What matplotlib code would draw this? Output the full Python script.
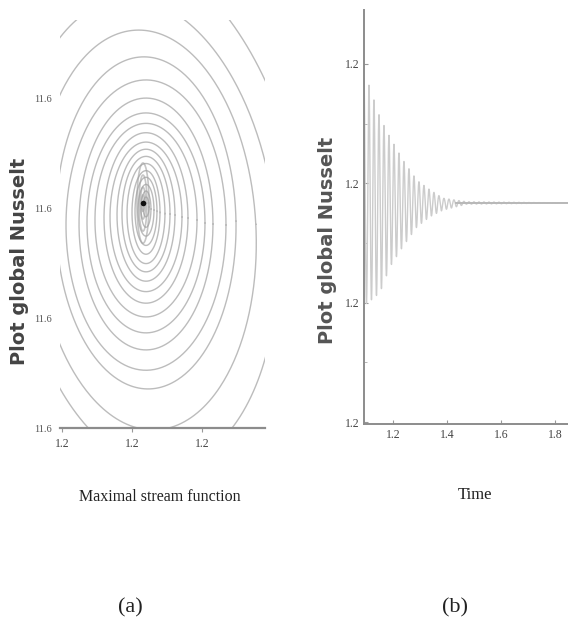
import numpy as np
import matplotlib
matplotlib.use('Agg')
import matplotlib.pyplot as plt
from matplotlib.ticker import FixedLocator

# ---- panel (a): phase portrait, nested orbits (stream function vs Nusselt)
orbit_cx = 1.2120
orbit_a = [0.02286, 0.01857, 0.01571, 0.01286, 0.01143, 0.00957, 0.00843, 0.00729,
           0.00600, 0.00514, 0.00414, 0.00343, 0.00271, 0.00200, 0.00157, 0.00114,
           0.00071, 0.00043]
orbit_b = [0.0527, 0.0427, 0.0364, 0.0302, 0.0264, 0.0229, 0.0200, 0.0176,
           0.0155, 0.0136, 0.0120, 0.0105, 0.0091, 0.0076, 0.0062, 0.0047,
           0.0033, 0.0018]
orbit_cy = [11.6351, 11.6355, 11.6360, 11.6373, 11.6369, 11.6371, 11.6373, 11.6378,
            11.6382, 11.6384, 11.6387, 11.6389, 11.6390, 11.6392, 11.6394, 11.6396,
            11.6398, 11.6402]
orbit_tilt = [9, 6, 3, 1, 0, 0, 0, 0, 0, 0, 0, 0, 0, 0, 0, 0, 0, 0]
fixed_pt = (1.21157, 11.6409)
haze_a = [0.00086, 0.00057, 0.00036, 0.00021]
haze_b = [0.0073, 0.0051, 0.0029, 0.0015]
a_xticks = [1.20, 1.21, 1.22]
a_xlabels = ['1.2', '1.2', '1.2']
a_yticks = [11.60, 11.62, 11.64, 11.66]
a_ylabels = ['11.6', '11.6', '11.6', '11.6']

# ---- panel (b): Nusselt time series, damped oscillation
env_t = [1.093, 1.1078, 1.152, 1.189, 1.237, 1.289, 1.337, 1.385, 1.473, 1.848]
env_up = [0.0208, 0.0202, 0.0143, 0.0110, 0.0072, 0.0038, 0.0022, 0.0008, 0.0002, 0.0]
env_lo = [0.0170, 0.0167, 0.0150, 0.0107, 0.0073, 0.0040, 0.0023, 0.0012, 0.0002, 0.0]
steady_nu = 1.2367
period = 0.0185
b_xticks = [1.2, 1.4, 1.6, 1.8]
b_xlabels = ['1.2', '1.4', '1.6', '1.8']
b_yticks = [1.20, 1.22, 1.24, 1.26]
b_ylabels = ['1.2', '1.2', '1.2', '1.2']

fig = plt.figure(figsize=(5.68, 6.37), dpi=100)
serif = 'Liberation Serif'

# ---------------- (a)
axa = fig.add_axes([0.1056, 0.3281, 0.3609, 0.6405])
axa.set_xlim(1.19971, 1.22900)
axa.set_ylim(11.60, 11.6742)
# data units per pixel, so orbits can be tilted in screen space
sx = (1.22900 - 1.19971) / (0.3609 * 568)
sy = (11.6742 - 11.60) / (0.6405 * 637)

th = np.linspace(0, 2 * np.pi, 400)
for a, b, cy, tilt in zip(orbit_a, orbit_b, orbit_cy, orbit_tilt):
    px = a / sx * np.cos(th)
    py = b / sy * np.sin(th)
    r = np.deg2rad(tilt)
    qx = px * np.cos(r) - py * np.sin(r)
    qy = px * np.sin(r) + py * np.cos(r)
    axa.plot(orbit_cx + qx * sx, cy + qy * sy, color='#bcbcbc', lw=1.0)

for a, b in zip(haze_a, haze_b):
    axa.plot(fixed_pt[0] + a * np.cos(th), fixed_pt[1] + b * np.sin(th),
             color='#a0a0a0', lw=1.2, alpha=0.6)
axa.plot(*fixed_pt, marker='o', ms=4, color='#111111', mec='none')

axa.xaxis.set_major_locator(FixedLocator(a_xticks))
axa.set_xticklabels(a_xlabels)
axa.yaxis.set_major_locator(FixedLocator(a_yticks))
axa.set_yticklabels(a_ylabels)
for s in ['top', 'right', 'left']:
    axa.spines[s].set_visible(False)
axa.spines['bottom'].set_color('#8c8c8c')
axa.spines['bottom'].set_linewidth(1.6)
axa.tick_params(axis='x', length=3, color='#999999', labelsize=8.5, labelcolor='#444444', pad=4)
axa.tick_params(axis='y', length=0, labelsize=7.5, labelcolor='#555555', pad=6)
for lab in axa.get_xticklabels() + axa.get_yticklabels():
    lab.set_family(serif)

# ---------------- (b)
axb = fig.add_axes([0.6408, 0.3344, 0.3592, 0.6499])
axb.set_xlim(1.093, 1.848)
axb.set_ylim(1.1997, 1.269)

t = np.linspace(env_t[0], env_t[-1], 30000)
up = np.interp(t, env_t, env_up)
lo = np.interp(t, env_t, env_lo)
c = np.cos(2 * np.pi * (t - env_t[0]) / period)
nu = steady_nu + np.where(c > 0, up, lo) * c
axb.plot(t, nu, color='#cccccc', lw=1.0)
axb.axhline(steady_nu, color='#b8b8b8', lw=1.4, xmin=0.45)

axb.xaxis.set_major_locator(FixedLocator(b_xticks))
axb.set_xticklabels(b_xlabels)
axb.yaxis.set_major_locator(FixedLocator(b_yticks))
axb.set_yticklabels(b_ylabels)
axb.yaxis.set_minor_locator(FixedLocator([1.21, 1.23, 1.25]))
for s in ['top', 'right']:
    axb.spines[s].set_visible(False)
for s in ['left', 'bottom']:
    axb.spines[s].set_color('#8c8c8c')
    axb.spines[s].set_linewidth(1.4)
axb.tick_params(direction='in', length=3, color='#999999', labelsize=8.5,
                labelcolor='#444444')
axb.tick_params(axis='y', which='minor', direction='in', length=2, color='#aaaaaa')
for lab in axb.get_xticklabels() + axb.get_yticklabels():
    lab.set_family(serif)

# ---------------- labels
fig.text(0.035, 0.589, 'Plot global Nusselt', rotation=90, ha='center', va='center',
         fontsize=14, fontweight='bold', color='#444444')
fig.text(0.577, 0.623, 'Plot global Nusselt', rotation=90, ha='center', va='center',
         fontsize=14, fontweight='bold', color='#555555')
fig.text(0.282, 0.22, 'Maximal stream function', ha='center', va='center',
         fontsize=11.5, family=serif, color='#222222')
fig.text(0.836, 0.223, 'Time', ha='center', va='center',
         fontsize=12, family=serif, color='#222222')
fig.text(0.229, 0.045, '(a)', ha='center', va='center', fontsize=16, family=serif,
         color='#222222')
fig.text(0.801, 0.045, '(b)', ha='center', va='center', fontsize=16, family=serif,
         color='#222222')

fig.savefig('out.png', dpi=100)
